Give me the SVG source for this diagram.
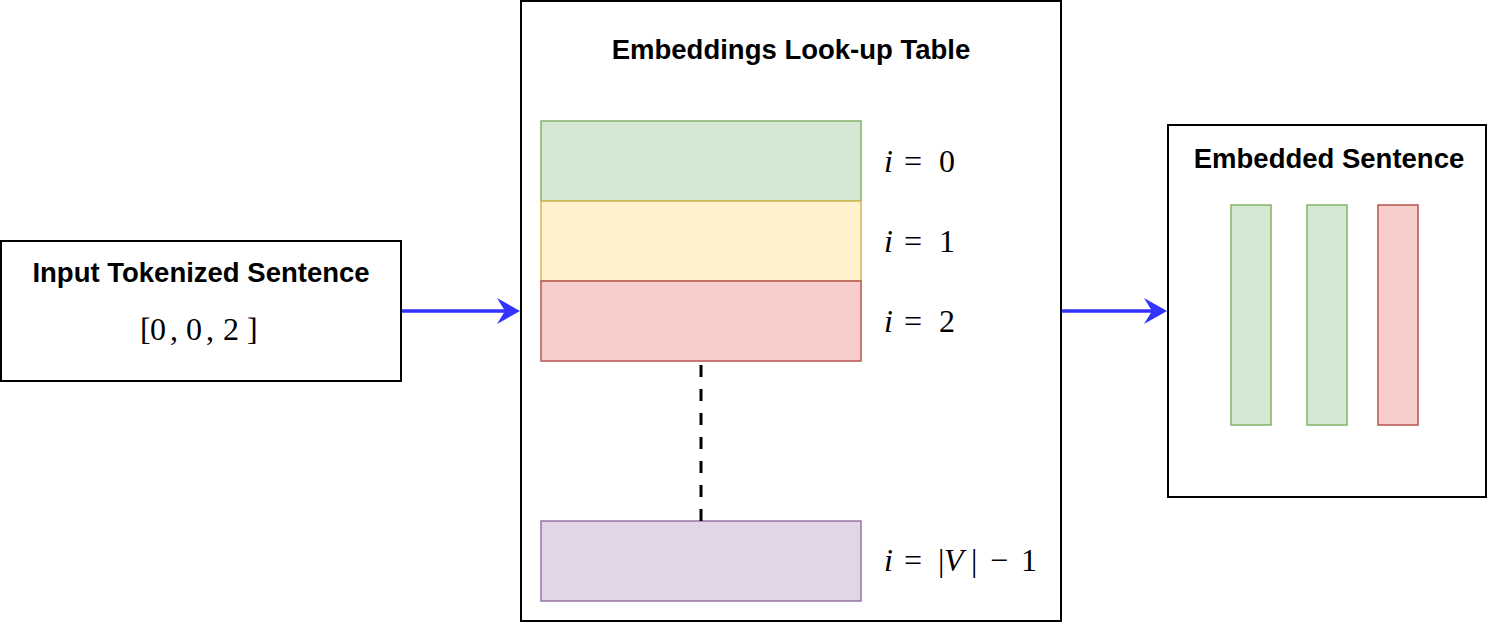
<svg xmlns="http://www.w3.org/2000/svg" width="1488" height="624" viewBox="0 0 1488 624">
<style>
.box{fill:#fff;stroke:#000;stroke-width:2}
.title{font-family:"Liberation Sans",Arial,sans-serif;font-weight:bold;font-size:27.5px;fill:#000;text-anchor:middle}
.math{font-family:"Liberation Serif","Times New Roman",serif;fill:#000;font-size:32px}
.it{font-style:italic}
.g{fill:#d5e8d4;stroke:#82b366;stroke-width:1.5}
.y{fill:#fff2cc;stroke:#d6b656;stroke-width:1.5}
.r{fill:#f8cecc;stroke:#b85450;stroke-width:1.5}
.p{fill:#e1d5e7;stroke:#9673a6;stroke-width:1.5}
.edge{stroke:#3333ff;stroke-width:3.5;fill:none}
</style>
<defs>
<marker id="arr" viewBox="0 0 23 26" refX="13" refY="13" markerWidth="23" markerHeight="26" markerUnits="userSpaceOnUse" orient="auto">
<path d="M0,0 L23,13 L0,26 L8,13 Z" fill="#3333ff"/>
</marker>
</defs>
<g id="input">
<rect class="box" x="1" y="241" width="400" height="140"/>
<text class="title" x="201" y="282">Input Tokenized Sentence</text>
<text class="math" y="340" font-size="39"><tspan x="140">[</tspan><tspan x="150">0</tspan><tspan x="170">,</tspan><tspan x="186">0</tspan><tspan x="206">,</tspan><tspan x="223">2</tspan><tspan x="247">]</tspan></text>
</g>
<g id="table">
<rect class="box" x="521" y="1" width="540" height="620"/>
<text class="title" x="791" y="59">Embeddings Look-up Table</text>
<rect class="g" x="541" y="121" width="320" height="80"/>
<rect class="y" x="541" y="201" width="320" height="80"/>
<rect class="r" x="541" y="281" width="320" height="80"/>
<rect class="p" x="541" y="521" width="320" height="80"/>
<text class="math" y="172"><tspan class="it" x="884">i</tspan><tspan x="904">=</tspan><tspan x="939">0</tspan></text>
<text class="math" y="252"><tspan class="it" x="884">i</tspan><tspan x="904">=</tspan><tspan x="939">1</tspan></text>
<text class="math" y="332"><tspan class="it" x="884">i</tspan><tspan x="904">=</tspan><tspan x="939">2</tspan></text>
<text class="math" y="571"><tspan class="it" x="884">i</tspan><tspan x="904">=</tspan><tspan x="938">|</tspan><tspan class="it" x="944">V</tspan><tspan x="971">|</tspan><tspan x="990">−</tspan><tspan x="1021">1</tspan></text>
<line x1="701" y1="365" x2="701" y2="521" stroke="#000" stroke-width="3" stroke-dasharray="12,12"/>
</g>
<g id="embedded">
<rect class="box" x="1168" y="125" width="318" height="372"/>
<text class="title" x="1329" y="168">Embedded Sentence</text>
<rect class="g" x="1231" y="205" width="40" height="220"/>
<rect class="g" x="1307" y="205" width="40" height="220"/>
<rect class="r" x="1378" y="205" width="40" height="220"/>
</g>
<g id="connectors">
<line class="edge" x1="402" y1="311" x2="510" y2="311" marker-end="url(#arr)"/>
<line class="edge" x1="1062" y1="311" x2="1157" y2="311" marker-end="url(#arr)"/>
</g>
</svg>
